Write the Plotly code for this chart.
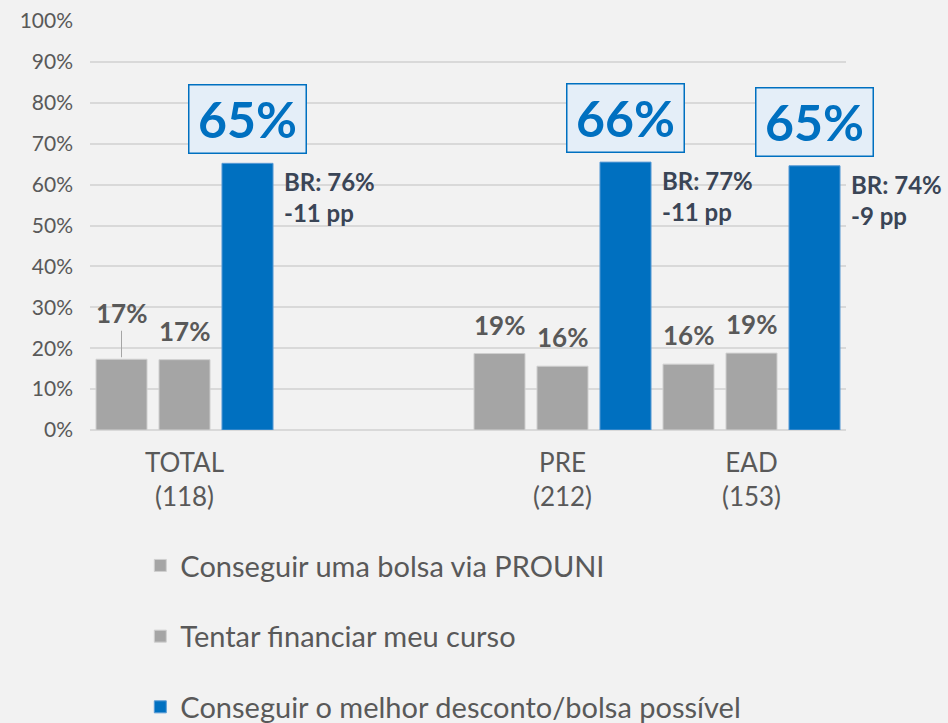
import plotly.graph_objects as go

categories = ["TOTAL<br>(118)", " ", "PRE<br>(212)", "EAD<br>(153)"]
series_names = ["Conseguir uma bolsa via PROUNI", "Tentar financiar meu curso",
                "Conseguir o melhor desconto/bolsa possível"]
prouni = [17.3, None, 18.7, 16.1]
financiar = [17.2, None, 15.6, 18.8]
desconto = [65.2, None, 65.5, 64.6]
prouni_lbl = ["17%", None, "19%", "16%"]
financiar_lbl = ["17%", None, "16%", "19%"]
desconto_lbl = ["65%", None, "66%", "65%"]
br_lbl = ["BR: 76%<br>-11 pp", None, "BR: 77%<br>-11 pp", "BR: 74%<br>-9 pp"]
yticks = [0, 10, 20, 30, 40, 50, 60, 70, 80, 90, 100]

GRAY = "#A5A5A5"
BLUE = "#0070C0"
TXT = "#595959"
FONT = "Lato"

fig = go.Figure()
series = [(prouni, GRAY), (financiar, GRAY), (desconto, BLUE)]
for k, (vals, col) in enumerate(series):
    fig.add_trace(go.Bar(
        x=categories, y=vals, name=series_names[k], legendgroup=f"g{k}",
        marker=dict(color=col, line=dict(color="#d0d0d0" if col == GRAY else "#5a9bd5", width=1)),
        hoverinfo="skip",
    ))

ann = []
off = 1 / 3
for i in range(len(categories)):
    if prouni[i] is None:
        continue
    if i == 0:
        ann.append(dict(x=i - off, y=prouni[i], text=f"<b>{prouni_lbl[i]}</b>", showarrow=True,
                        arrowhead=0, arrowwidth=1, arrowcolor="#a5a5a5", ax=0, ay=-46, standoff=2,
                        font=dict(size=26, color=TXT, family=FONT)))
    else:
        ann.append(dict(x=i - off, y=prouni[i], text=f"<b>{prouni_lbl[i]}</b>", showarrow=False,
                        yanchor="bottom", yshift=11, font=dict(size=26, color=TXT, family=FONT)))
    ann.append(dict(x=i, y=financiar[i], text=f"<b>{financiar_lbl[i]}</b>", showarrow=False,
                    yanchor="bottom", yshift=11, font=dict(size=26, color=TXT, family=FONT)))
    ann.append(dict(x=i + off, y=desconto[i], text=f"<b>{desconto_lbl[i]}</b>", showarrow=False,
                    yanchor="bottom", yshift=9, width=108, height=59, borderpad=4,
                    bgcolor="#e4eef8", bordercolor=BLUE, borderwidth=1.5,
                    font=dict(size=50, color=BLUE, family=FONT)))
    ann.append(dict(x=i + off, y=desconto[i], text=f"<b>{br_lbl[i]}</b>", showarrow=False,
                    xanchor="left", yanchor="top", xshift=34, yshift=-2, align="left",
                    font=dict(size=24, color="#3a4556", family=FONT)))

fig.update_layout(
    width=948, height=723,
    paper_bgcolor="#f2f2f2", plot_bgcolor="#f2f2f2",
    margin=dict(l=90, r=102, t=21, b=293, autoexpand=False),
    barmode="group", bargap=0, bargroupgap=0.19,
    font=dict(family=FONT, color=TXT),
    showlegend=True,
    legend=dict(orientation="v", xref="container", yref="container", x=0.148, y=0.253,
                xanchor="left", yanchor="top",
                font=dict(size=29, color=TXT, family=FONT), tracegroupgap=30,
                traceorder="grouped", bgcolor="rgba(0,0,0,0)", itemwidth=30),
    annotations=ann,
)
fig.update_yaxes(range=[0, 100], tickvals=yticks, ticktext=[f"{v}%" for v in yticks],
                 showgrid=True, gridcolor="#d9d9d9", gridwidth=1.5, zeroline=True,
                 zerolinecolor="#d9d9d9", zerolinewidth=2, ticks="", ticklabelstandoff=16,
                 tickfont=dict(size=21, color=TXT, family=FONT), fixedrange=True)
fig.update_xaxes(range=[-0.5, 3.5], showgrid=False, ticks="", showline=False,
                 tickfont=dict(size=26, color=TXT, family=FONT), ticklabelstandoff=15, fixedrange=True)

fig.write_html("out.html", config={"displayModeBar": False},
               post_script="document.body.style.margin='0';")
